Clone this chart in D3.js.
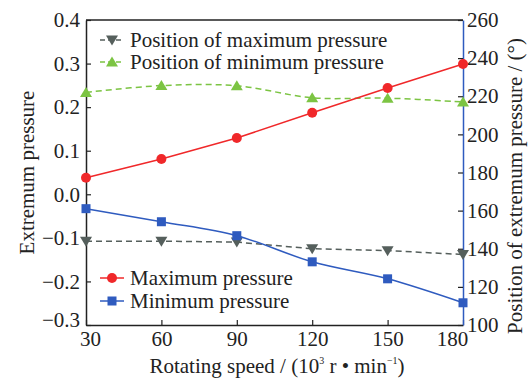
<!DOCTYPE html>
<html><head><meta charset="utf-8">
<script src="https://cdn.jsdelivr.net/npm/d3@7"></script>
<style>body{margin:0;background:#fff}svg{display:block}text{font-family:"Liberation Serif","Times New Roman",serif;fill:#222}</style>
</head><body><svg id="c" width="529" height="381"></svg>
<script>
const speeds = [30, 60, 90, 120, 150, 180];
const maxPressure = [0.038, 0.081, 0.129, 0.187, 0.244, 0.299];
const minPressure = [-0.033, -0.063, -0.095, -0.155, -0.194, -0.249];
const posMax = [144, 144, 143.5, 140, 139, 137];
const posMin = [222, 225.6, 225.5, 219.2, 219, 217];
const leftTicks = [-0.3, -0.2, -0.1, 0.0, 0.1, 0.2, 0.3, 0.4];
const rightTicks = [100, 120, 140, 160, 180, 200, 220, 240, 260];
const xTicks = [30, 60, 90, 120, 150, 180];

const svg = d3.select("#c");
const L = 86, R = 463, T = 20, B = 325;
const FS = "21px";
const x = d3.scaleLinear().domain([30, 180]).range([L, R]);
const yl = d3.scaleLinear().domain([-0.3, 0.4]).range([B, T]);
const yr = d3.scaleLinear().domain([100, 260]).range([B, T]);

const fmt = v => (v < 0 ? "\u2212" : "") + Math.abs(v).toFixed(1);

// frame top
svg.append("line").attr("x1", L).attr("x2", R).attr("y1", T).attr("y2", T).attr("stroke", "#222").attr("stroke-width", 1.5);

const ax = svg.append("g").attr("transform", `translate(0,${B})`).call(d3.axisBottom(x).tickValues(xTicks).tickSizeInner(-5).tickSizeOuter(0).tickPadding(6));
const al = svg.append("g").attr("transform", `translate(${L},0)`).call(d3.axisLeft(yl).tickValues(leftTicks).tickFormat(fmt).tickSizeInner(-5).tickSizeOuter(0).tickPadding(6));
const ar = svg.append("g").attr("transform", `translate(${R},0)`).call(d3.axisRight(yr).tickValues(rightTicks).tickSizeInner(-5).tickSizeOuter(0).tickPadding(4));
[ax, al, ar].forEach(g => {
  g.selectAll("text").style("font-family", '"Liberation Serif",serif').style("font-size", FS).attr("fill", "#222");
  g.select(".domain").attr("stroke", "#222").attr("stroke-width", 1.5);
  g.selectAll(".tick line").attr("stroke", "#222").attr("stroke-width", 1.2);
});
ar.select(".domain").attr("stroke", "#2f5bbf");
// nudge crowded corner labels as in the reference
ax.selectAll(".tick text").filter(d => d === 180).attr("dx", -11);
ax.selectAll(".tick text").filter(d => d === 30).attr("dx", 4);
al.selectAll(".tick text").filter(d => d === -0.3).attr("dy", "0.08em");

const colRed = "#f0282a", colBlue = "#2f5bbf", colGrey = "#555f5c", colGreen = "#7cc443";

function series(vals, y, color, dash, curve) {
  const pts = speeds.map((s, i) => [x(s), y(vals[i])]);
  svg.append("path").attr("d", d3.line().curve(curve)(pts)).attr("fill", "none").attr("stroke", color).attr("stroke-width", 1.5).attr("stroke-dasharray", dash);
  return pts;
}
function marker(g, type, cx, cy, color) {
  if (type === "circle") g.append("circle").attr("cx", cx).attr("cy", cy).attr("r", 5).attr("fill", color);
  else if (type === "square") g.append("rect").attr("x", cx - 4.5).attr("y", cy - 4.5).attr("width", 9).attr("height", 9).attr("fill", color);
  else if (type === "up") g.append("path").attr("d", `M${cx},${cy - 5.5}L${cx + 6},${cy + 4.5}L${cx - 6},${cy + 4.5}Z`).attr("fill", color);
  else g.append("path").attr("d", `M${cx},${cy + 5.5}L${cx + 6},${cy - 4.5}L${cx - 6},${cy - 4.5}Z`).attr("fill", color);
}
const defs = [
  {vals: posMax, y: yr, color: colGrey, dash: "6,4", curve: d3.curveLinear, m: "down", name: "Position of maximum pressure"},
  {vals: posMin, y: yr, color: colGreen, dash: "6,4", curve: d3.curveCatmullRom, m: "up", name: "Position of minimum pressure"},
  {vals: maxPressure, y: yl, color: colRed, dash: null, curve: d3.curveLinear, m: "circle", name: "Maximum pressure"},
  {vals: minPressure, y: yl, color: colBlue, dash: null, curve: d3.curveMonotoneX, m: "square", name: "Minimum pressure"}
];
const mg = svg.append("g");
defs.forEach(d => {
  const pts = series(d.vals, d.y, d.color, d.dash, d.curve);
  pts.forEach(p => marker(mg, d.m, p[0], p[1], d.color));
});

// legends
const legY = [40, 62, 278, 301];
defs.forEach((d, i) => {
  const g = svg.append("g");
  g.append("line").attr("x1", 100).attr("x2", 124).attr("y1", legY[i]).attr("y2", legY[i]).attr("stroke", d.color).attr("stroke-width", 1.5).attr("stroke-dasharray", d.dash ? "5,3" : null);
  marker(g, d.m, 112, legY[i], d.color);
  g.append("text").attr("x", 130).attr("y", legY[i]).attr("dy", "0.33em").style("font-size", FS).text(d.name);
});

// axis titles
svg.append("text").attr("transform", `translate(27,${(T + B) / 2}) rotate(-90)`).attr("text-anchor", "middle").attr("dy", "0.35em").style("font-size", FS).text("Extremum pressure");
svg.append("text").attr("transform", `translate(515,186) rotate(-90)`).attr("text-anchor", "middle").attr("dy", "0.35em").style("font-size", FS).text("Position of extremum pressure / (\u00b0)");
const xt = svg.append("text").attr("x", 277).attr("y", 373).attr("text-anchor", "middle").style("font-size", FS);
xt.append("tspan").text("Rotating speed / (10");
xt.append("tspan").attr("dy", -9).style("font-size", "10px").text("3");
xt.append("tspan").attr("dy", 9).text(" r \u2022 min");
xt.append("tspan").attr("dy", -9).style("font-size", "10px").text("\u22121");
xt.append("tspan").attr("dy", 9).text(")");
</script></body></html>
